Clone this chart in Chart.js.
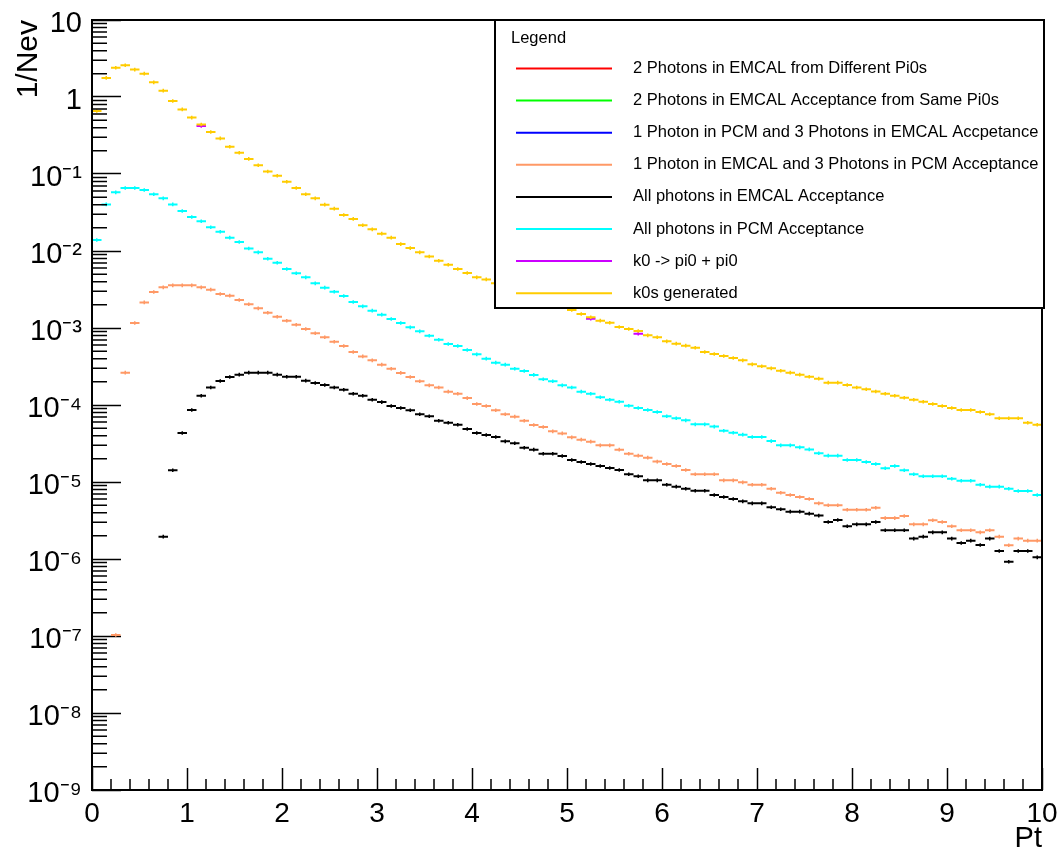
<!DOCTYPE html>
<html>
<head>
<meta charset="utf-8">
<script src="https://cdn.jsdelivr.net/npm/chart.js@4.4.1/dist/chart.umd.min.js"></script>
<style>
html,body{margin:0;padding:0;background:#fff;}
#wrap{width:1063px;height:856px;}
</style>
</head>
<body>
<div id="wrap"><canvas id="c" width="1063" height="856"></canvas></div>
<script>
const _ = null;
// Pt bins: 100 bins of width 0.1 from 0 to 10 (low edges)
const ptBinLow = Array.from({length: 100}, (v, i) => i / 10);

const xTickValues = [0,1,2,3,4,5,6,7,8,9,10];
const xTickLabels = ['0','1','2','3','4','5','6','7','8','9','10'];
const yTickValues = [1e-9,1e-8,1e-7,1e-6,1e-5,1e-4,1e-3,1e-2,1e-1,1,10];
const yTickLabels = ['10\u207B\u2079','10\u207B\u2078','10\u207B\u2077','10\u207B\u2076','10\u207B\u2075','10\u207B\u2074','10\u207B\u00B3','10\u207B\u00B2','10\u207B\u00B9','1','10'];

const seriesNames = [
  '2 Photons in EMCAL from Different Pi0s',
  '2 Photons in EMCAL Acceptance from Same Pi0s',
  '1 Photon in PCM and 3 Photons in EMCAL Accpetance',
  '1 Photon in EMCAL and 3 Photons in PCM Acceptance',
  'All photons in EMCAL Acceptance',
  'All photons in PCM Acceptance',
  'k0 -> pi0 + pi0',
  'k0s generated'
];
const seriesColors = ['#ff0000','#00ff00','#0000ff','#ff9966','#000000','#00ffff','#cc00ff','#ffcc00'];

const twoPhotonsDiffPi0 = [];
const twoPhotonsSamePi0 = [];
const onePcmThreeEmcal = [];

const oneEmcalThreePcm = [
  _,_,1.03e-7,0.000263,0.00116,0.00215,0.00294,0.00337,0.00358,0.00358,
  0.00358,0.00337,0.00315,0.00277,0.00263,0.00231,0.00203,0.0018,0.00158,0.0014,
  0.00124,0.0011,0.00097,0.000853,0.000757,0.000664,0.000583,0.000488,0.000428,0.00038,
  0.000334,0.000296,0.000261,0.000231,0.000203,0.00018,0.000169,0.000149,0.00014,0.000123,
  0.000103,0.000097,0.0000853,0.0000757,0.0000706,0.0000625,0.000055,0.0000518,0.0000455,0.0000428,
  0.000038,0.0000355,0.0000334,0.0000299,0.0000299,0.0000263,0.0000233,0.000022,0.0000207,0.0000184,
  0.0000171,0.0000161,0.0000143,0.0000126,0.0000126,0.0000126,0.0000105,0.0000105,0.0000099,0.00000923,
  0.00000923,0.00000818,0.00000726,0.00000678,0.00000638,0.00000601,0.00000528,0.00000498,0.00000498,0.00000437,
  0.00000437,0.00000437,0.00000464,0.0000034,0.0000034,0.00000361,0.00000282,0.00000282,0.00000318,0.00000303,
  0.00000266,0.00000236,0.00000236,0.00000222,0.00000236,0.00000195,0.00000151,0.00000184,0.00000173,0.00000173
];

const allEmcal = [
  _,_,_,_,_,_,_,1.95e-6,0.0000142,0.0000432,
  0.0000861,0.000132,0.000169,0.000205,0.000231,0.000248,0.000263,0.000263,0.000263,0.000248,
  0.000233,0.000233,0.000207,0.000193,0.000182,0.000169,0.000158,0.00014,0.000132,0.000117,
  0.000109,0.000097,0.0000914,0.0000853,0.0000757,0.0000713,0.0000625,0.0000589,0.0000555,0.0000488,
  0.0000432,0.0000407,0.0000384,0.0000337,0.0000318,0.0000279,0.0000263,0.0000233,0.0000233,0.0000218,
  0.0000193,0.0000182,0.0000171,0.0000161,0.0000152,0.0000143,0.0000126,0.0000119,0.0000105,0.0000105,
  0.00000923,0.0000087,0.00000818,0.0000077,0.0000077,0.00000678,0.00000638,0.00000601,0.00000561,0.00000528,
  0.00000528,0.00000469,0.00000442,0.00000412,0.00000412,0.00000388,0.00000366,0.00000303,0.00000321,0.00000266,
  0.00000282,0.00000282,0.00000303,0.00000236,0.00000236,0.00000236,0.00000184,0.00000195,0.00000222,0.00000222,
  0.00000184,0.00000161,0.00000173,0.00000152,0.00000184,0.00000127,0.00000092,0.00000127,0.00000127,0.00000105
];

const allPcm = [
  0.0139,0.0403,0.0578,0.0658,0.0658,0.0619,0.0545,0.0483,0.0403,0.033,
  0.0276,0.0243,0.0203,0.0178,0.0149,0.0131,0.0108,0.0096,0.00794,0.00705,
  0.00583,0.00513,0.00455,0.0038,0.00334,0.00296,0.0026,0.00218,0.00191,0.00168,
  0.00149,0.00131,0.00116,0.00102,0.000905,0.000794,0.000705,0.00062,0.000583,0.000518,
  0.000455,0.0004,0.000355,0.000334,0.000296,0.000277,0.000246,0.000216,0.000203,0.00018,
  0.000169,0.000149,0.00014,0.000126,0.000117,0.00011,0.000098,0.0000914,0.0000861,0.0000811,
  0.0000713,0.0000672,0.0000632,0.0000561,0.0000561,0.0000524,0.0000464,0.0000437,0.0000412,0.0000384,
  0.0000384,0.000034,0.0000299,0.0000299,0.0000282,0.0000265,0.0000236,0.000022,0.000022,0.0000193,
  0.0000193,0.0000182,0.0000171,0.0000151,0.0000161,0.0000142,0.0000126,0.0000119,0.0000119,0.0000119,
  0.000011,0.0000104,0.0000104,0.00000923,0.0000087,0.0000087,0.00000818,0.00000764,0.00000764,0.00000678
];

const k0ToPi0Pi0 = [
  _,_,_,_,_,_,_,_,_,_,
  _,0.42,_,_,_,_,_,_,_,_,
  _,_,_,_,_,_,_,_,_,_,
  _,_,_,_,_,_,_,_,_,_,
  _,_,_,_,_,_,_,_,_,_,
  _,_,0.00132,_,_,_,_,0.000843,_,_,
  _,_,_,_,_,_,_,_,_,_,
  _,_,_,_,_,_,_,_,_,_,
  _,_,_,_,_,_,_,_,_,_,
  _,_,_,_,_,_,_,_,_,_
];

const k0sGenerated = [
  0.66,1.77,2.40,2.58,2.27,2.01,1.55,1.21,0.887,0.69,
  0.54,0.44,0.351,0.290,0.226,0.189,0.157,0.130,0.108,0.095,
  0.0794,0.0658,0.0545,0.0483,0.040,0.0355,0.0294,0.0261,0.0216,0.0191,
  0.0168,0.0149,0.0123,0.0109,0.0096,0.0085,0.00748,0.00664,0.00583,0.00518,
  0.00455,0.00428,0.0038,_,_,_,_,_,_,_,
  0.00171,0.00152,0.00138,0.001245,0.00117,0.00103,0.00097,0.000914,0.000803,0.000757,
  0.000671,0.000626,0.00059,0.000555,0.000488,0.000459,0.000433,0.000408,0.00038,0.000337,
  0.000318,0.000299,0.000279,0.000263,0.000248,0.000233,0.00022,0.000195,0.000195,0.000182,
  0.000169,0.00016,0.00015,0.00014,0.000132,0.000124,0.000117,0.00011,0.000103,0.000097,
  0.0000914,0.0000861,0.0000861,0.0000811,0.0000757,0.0000672,0.0000672,0.0000672,0.0000589,0.0000555
];

const seriesValues = [twoPhotonsDiffPi0, twoPhotonsSamePi0, onePcmThreeEmcal, oneEmcalThreePcm, allEmcal, allPcm, k0ToPi0Pi0, k0sGenerated];
const drawOrder = [5,5,5,4,3,2,1,0];

// minor tick positions (axis decoration)
const yMinorTickValues = [];
for (let e = -9; e <= 0; e++) for (let m = 2; m <= 9; m++) yMinorTickValues.push(m * Math.pow(10, e));
const xMinorTickValues = [];
for (let k = 0; k < 10; k++) for (let m = 1; m <= 4; m++) xMinorTickValues.push(k + m * 0.2);

function histPoints(vals) {
  const pts = [];
  vals.forEach((v, i) => {
    if (v === null || v === undefined) return;
    const lo = ptBinLow[i], hi = lo + 0.1;
    pts.push({x: lo, y: v}, {x: lo + 0.05, y: v, c: 1}, {x: hi, y: v}, {x: hi, y: null});
  });
  return pts;
}

function noPad(s) { s.paddingTop = 0; s.paddingBottom = 0; s.paddingLeft = 0; s.paddingRight = 0; }

Chart.defaults.font.family = '"Liberation Sans", Arial, Helvetica, sans-serif';
Chart.defaults.color = '#000';

const rootStyle = {
  id: 'rootStyle',
  afterDraw(chart) {
    const {ctx, chartArea: a, scales: {x, y}} = chart;
    ctx.save();
    ctx.strokeStyle = '#000';
    ctx.lineWidth = 1.5;
    ctx.beginPath();
    for (const v of yMinorTickValues) {
      const py = y.getPixelForValue(v);
      ctx.moveTo(a.left, py); ctx.lineTo(a.left + 15, py);
    }
    for (const v of xMinorTickValues) {
      const px = x.getPixelForValue(v);
      ctx.moveTo(px, a.bottom); ctx.lineTo(px, a.bottom - 11);
    }
    ctx.stroke();
    ctx.lineWidth = 2;
    ctx.strokeRect(a.left, a.top, a.right - a.left, a.bottom - a.top);

    // legend box
    const bx = 495, by = 20, bw = 549, bh = 288;
    ctx.fillStyle = '#fff';
    ctx.fillRect(bx, by, bw, bh);
    ctx.strokeRect(bx, by, bw, bh);
    ctx.fillStyle = '#000';
    ctx.font = '16.5px "Liberation Sans", Arial, sans-serif';
    ctx.textBaseline = 'middle';
    ctx.textAlign = 'left';
    ctx.fillText('Legend', 511, 38);
    chart.data.datasets.forEach((ds, i) => {
      const ry = 68.5 + i * 32.1;
      ctx.strokeStyle = ds.borderColor;
      ctx.lineWidth = 2;
      ctx.beginPath();
      ctx.moveTo(516, ry); ctx.lineTo(612, ry);
      ctx.stroke();
      ctx.fillStyle = '#000';
      ctx.fillText(ds.label, 633, ry);
    });
    ctx.restore();
  }
};

new Chart(document.getElementById('c'), {
  type: 'line',
  data: {
    datasets: seriesNames.map((name, k) => ({
      label: name,
      data: histPoints(seriesValues[k]),
      borderColor: seriesColors[k],
      backgroundColor: seriesColors[k],
      borderWidth: 2,
      pointStyle: 'line',
      pointRotation: 90,
      pointRadius: (c) => (c.raw && c.raw.c ? 1.8 : 0),
      pointBorderWidth: 1.5,
      pointBorderColor: seriesColors[k],
      spanGaps: false,
      fill: false,
      tension: 0,
      order: drawOrder[k]
    }))
  },
  options: {
    responsive: false,
    animation: false,
    events: [],
    layout: {padding: {left: 0, top: 20, right: 21, bottom: 0}},
    plugins: {legend: {display: false}, tooltip: {enabled: false}},
    scales: {
      x: {
        type: 'linear', min: 0, max: 10, position: 'bottom',
        afterFit: (s) => { s.height = 66; noPad(s); },
        afterBuildTicks: (s) => { s.ticks = xTickValues.map(v => ({value: v})); },
        ticks: {callback: (v, i) => xTickLabels[i], autoSkip: false, maxRotation: 0, padding: 29, font: {size: 28}, color: '#000'},
        grid: {drawOnChartArea: false, drawTicks: true, tickLength: -22, tickWidth: 1.5, tickColor: '#000'},
        border: {display: false},
        title: {display: true, text: 'Pt', align: 'end', font: {size: 29}, color: '#000', padding: {top: 0, bottom: 0}}
      },
      y: {
        type: 'logarithmic', min: 1e-9, max: 10, position: 'left',
        afterFit: (s) => { s.width = 92; noPad(s); },
        afterBuildTicks: (s) => { s.ticks = yTickValues.map(v => ({value: v})); },
        ticks: {callback: (v, i) => yTickLabels[i], autoSkip: false, padding: 39, labelOffset: 4, font: {size: 29}, color: '#000'},
        grid: {drawOnChartArea: false, drawTicks: true, tickLength: -29, tickWidth: 1.5, tickColor: '#000'},
        border: {display: false},
        title: {display: true, text: '1/Nev', align: 'end', font: {size: 30}, color: '#000', padding: {top: 11, bottom: 0}}
      }
    }
  },
  plugins: [rootStyle]
});
</script>
</body>
</html>
